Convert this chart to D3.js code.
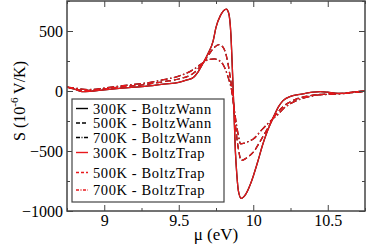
<!DOCTYPE html>
<html>
<head>
<meta charset="utf-8">
<script src="https://cdn.jsdelivr.net/npm/d3@7"></script>
<style>
  html, body { margin: 0; padding: 0; background: #fff; }
  svg { display: block; }
  svg text { font-family: "Liberation Serif", "Times New Roman", Times, "DejaVu Serif", serif; fill: #000; }
</style>
</head>
<body>
<svg id="chart" width="366" height="244"></svg>
<script>
// ---------- data ----------
const xTicks = [9, 9.5, 10, 10.5];
const xMinorTicks = [8.75, 9.25, 9.75, 10.25, 10.75];
const yTicks = [-1000, -500, 0, 500];
const yMinorTicks = [-750, -250, 250, 750];

const mu300 = [8.75,8.80,8.85,8.90,9.00,9.10,9.20,9.30,9.40,9.50,9.55,9.60,9.63,9.667,9.70,9.73,9.75,9.78,9.819,9.835,9.85,9.86,9.87,9.88,9.89,9.90,9.919,9.95,9.98,10.00,10.03,10.06,10.09,10.12,10.14,10.17,10.20,10.25,10.30,10.35,10.40,10.45,10.50,10.55,10.60,10.65,10.70,10.75];
const s300Wann = [33,15,-5,-3,10,22,32,42,58,72,90,115,160,240,320,413,530,630,683,650,470,180,-150,-500,-700,-830,-895,-860,-780,-710,-590,-460,-350,-260,-205,-130,-80,-45,-30,-20,-10,-5,-10,-18,-20,-12,-5,0];
const s300Trap = [33,15,-5,-3,10,22,32,42,58,72,90,115,160,240,320,413,530,630,683,650,470,180,-150,-500,-700,-830,-895,-860,-780,-710,-590,-460,-350,-260,-205,-130,-80,-45,-30,-20,-10,-5,-10,-18,-20,-12,-5,0];

const mu500 = [8.75,8.80,8.85,8.90,9.00,9.10,9.20,9.30,9.40,9.50,9.60,9.667,9.70,9.74,9.77,9.80,9.82,9.84,9.86,9.88,9.90,9.92,9.94,9.97,10.00,10.06,10.10,10.13,10.17,10.20,10.25,10.30,10.40,10.50,10.60,10.70,10.75];
const s500Wann = [33,20,5,5,18,32,44,58,78,100,150,240,300,365,386,360,290,160,-20,-280,-480,-579,-570,-545,-510,-390,-305,-234,-170,-130,-90,-62,-35,-25,-20,-10,-5];
const s500Trap = [33,20,5,5,18,32,44,58,78,100,150,240,300,365,386,360,290,160,-20,-280,-480,-579,-570,-545,-510,-390,-305,-234,-170,-130,-90,-62,-35,-25,-20,-10,-5];

const mu700 = [8.75,8.80,8.85,8.90,9.00,9.10,9.20,9.30,9.40,9.50,9.60,9.667,9.70,9.74,9.77,9.80,9.83,9.86,9.88,9.90,9.915,9.94,9.97,10.00,10.06,10.10,10.13,10.17,10.20,10.25,10.30,10.40,10.50,10.60,10.70,10.75];
const s700Wann = [33,25,15,12,24,40,55,70,95,124,180,240,262,267,255,215,120,-30,-220,-370,-441,-435,-420,-400,-320,-270,-234,-190,-150,-105,-75,-40,-28,-22,-8,-5];
const s700Trap = [33,25,15,12,24,40,55,70,95,124,180,240,262,267,255,215,120,-30,-220,-370,-441,-435,-420,-400,-320,-270,-234,-190,-150,-105,-75,-40,-28,-22,-8,-5];

const seriesLabels = ["300K - BoltzWann","500K - BoltzWann","700K - BoltzWann","300K - BoltzTrap","500K - BoltzTrap","700K - BoltzTrap"];

// ---------- layout ----------
const FONT = '"Liberation Serif", "Times New Roman", Times, "DejaVu Serif", serif';
const L = 67, R = 365, T = 1, B = 211;
const svg = d3.select("#chart");
const x = d3.scaleLinear().domain([8.75, 10.75]).range([L, R]);
const y = d3.scaleLinear().domain([-1000, 750]).range([B, T]);

const BLACK = "#000", RED = "#e8191c";
const styles = [
  {mu: mu300, s: s300Wann, color: BLACK, dash: null, ldash: null},
  {mu: mu500, s: s500Wann, color: BLACK, dash: "6,3", ldash: "4,2"},
  {mu: mu700, s: s700Wann, color: BLACK, dash: "7,2.5,1.5,2.5", ldash: "4,1.5,1,1.5"},
  {mu: mu300, s: s300Trap, color: RED, dash: null, ldash: null},
  {mu: mu500, s: s500Trap, color: RED, dash: "6,3", ldash: "3,2"},
  {mu: mu700, s: s700Trap, color: RED, dash: "7,2.5,1.5,2.5", ldash: "3,1.5,1,1.5"}
];

svg.append("defs").append("clipPath").attr("id","clip")
  .append("rect").attr("x", L).attr("y", T).attr("width", R-L).attr("height", B-T);

const line = d3.line().x(d => x(d[0])).y(d => y(d[1])).curve(d3.curveMonotoneX);
const gLines = svg.append("g").attr("clip-path","url(#clip)");
styles.forEach(st => {
  gLines.append("path")
    .datum(st.mu.map((m,i) => [m, st.s[i]]))
    .attr("d", line)
    .attr("fill","none")
    .attr("stroke", st.color)
    .attr("stroke-width", 1.3)
    .attr("stroke-dasharray", st.dash);
});

// ---------- axes ----------
const axisColor = "#444";
function styleAxis(g) {
  g.attr("font-family", FONT);
  g.select(".domain").remove();
  g.selectAll("line").attr("stroke", axisColor).attr("stroke-width", 1);
  g.selectAll("text").attr("font-size", 16).style("font-family", FONT);
}
svg.append("g").attr("transform",`translate(0,${B})`)
  .call(d3.axisBottom(x).tickValues(xTicks).tickSizeInner(-6).tickSizeOuter(0).tickPadding(4).tickFormat(d3.format("")))
  .call(styleAxis);
svg.append("g").attr("transform",`translate(0,${B})`)
  .call(d3.axisBottom(x).tickValues(xMinorTicks).tickSizeInner(-3).tickSizeOuter(0).tickFormat(""))
  .call(styleAxis);
svg.append("g").attr("transform",`translate(0,${T})`)
  .call(d3.axisTop(x).tickValues(xTicks).tickSizeInner(-6).tickSizeOuter(0).tickFormat(""))
  .call(styleAxis);
svg.append("g").attr("transform",`translate(0,${T})`)
  .call(d3.axisTop(x).tickValues(xMinorTicks).tickSizeInner(-3).tickSizeOuter(0).tickFormat(""))
  .call(styleAxis);
svg.append("g").attr("transform",`translate(${L},0)`)
  .call(d3.axisLeft(y).tickValues(yTicks).tickSizeInner(-6).tickSizeOuter(0).tickPadding(4).tickFormat(d3.format("")))
  .call(styleAxis);
svg.append("g").attr("transform",`translate(${L},0)`)
  .call(d3.axisLeft(y).tickValues(yMinorTicks).tickSizeInner(-3).tickSizeOuter(0).tickFormat(""))
  .call(styleAxis);
svg.append("g").attr("transform",`translate(${R},0)`)
  .call(d3.axisRight(y).tickValues(yTicks).tickSizeInner(-6).tickSizeOuter(0).tickFormat(""))
  .call(styleAxis);
svg.append("g").attr("transform",`translate(${R},0)`)
  .call(d3.axisRight(y).tickValues(yMinorTicks).tickSizeInner(-3).tickSizeOuter(0).tickFormat(""))
  .call(styleAxis);

svg.append("rect").attr("x", L).attr("y", T).attr("width", R-L).attr("height", B-T)
  .attr("fill","none").attr("stroke", axisColor).attr("stroke-width", 1.5);

// axis titles
svg.append("text").attr("x", (L+R)/2).attr("y", 240).attr("text-anchor","middle")
  .style("font-family", FONT).attr("font-size", 17).text("μ (eV)");
const yl = svg.append("text").attr("transform","translate(25,101) rotate(-90)")
  .style("font-family", FONT).attr("text-anchor","middle").attr("font-size", 16);
yl.append("tspan").text("S (10");
yl.append("tspan").attr("dy", -7).attr("font-size", 11).text("-6");
yl.append("tspan").attr("dy", 7).text(" V/K)");

// ---------- legend ----------
const lg = svg.append("g");
lg.append("rect").attr("x", 72).attr("y", 99).attr("width", 152).attr("height", 103)
  .attr("fill","#fff").attr("stroke", axisColor).attr("stroke-width", 1.2);
const rowY = [108.5, 123, 137.5, 152.5, 172.5, 190];
styles.forEach((st, i) => {
  lg.append("line").attr("x1", 76).attr("x2", 88).attr("y1", rowY[i]).attr("y2", rowY[i])
    .attr("stroke", st.color).attr("stroke-width", 1.4).attr("stroke-dasharray", st.ldash);
  lg.append("text").attr("x", 93).attr("y", rowY[i] + 5)
    .style("font-family", FONT).attr("font-size", 14.5).attr("letter-spacing", 0.6).text(seriesLabels[i]);
});
</script>
</body>
</html>
